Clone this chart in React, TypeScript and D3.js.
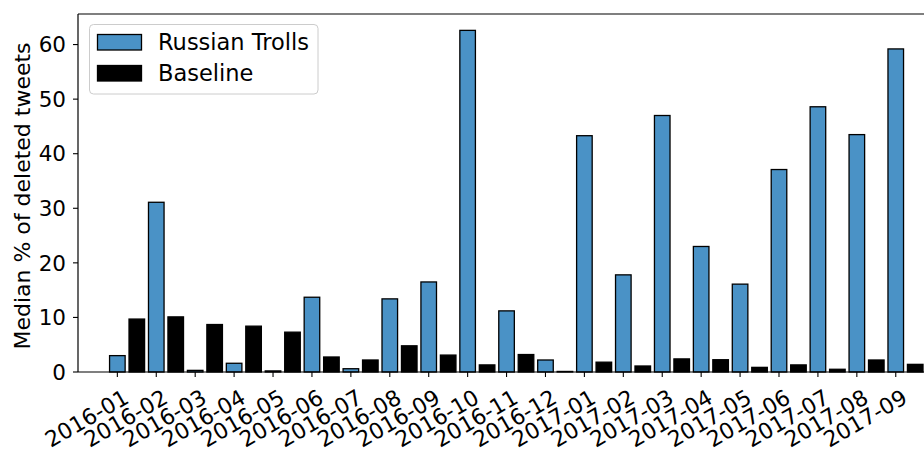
import React from "react";
import * as d3 from "d3";

const months = [
  "2016-01","2016-02","2016-03","2016-04","2016-05","2016-06","2016-07","2016-08","2016-09","2016-10","2016-11","2016-12",
  "2017-01","2017-02","2017-03","2017-04","2017-05","2017-06","2017-07","2017-08","2017-09",
];
const trolls = [3.0, 31.1, 0.3, 1.6, 0.2, 13.7, 0.6, 13.4, 16.5, 62.6, 11.2, 2.2, 43.3, 17.8, 47.0, 23.0, 16.1, 37.1, 48.6, 43.5, 59.2];
const baseline = [9.7, 10.1, 8.7, 8.4, 7.3, 2.75, 2.2, 4.8, 3.1, 1.3, 3.2, 0.1, 1.8, 1.1, 2.4, 2.25, 0.85, 1.3, 0.5, 2.2, 1.4];
const yTicks = [0, 10, 20, 30, 40, 50, 60];
const seriesNames = ["Russian Trolls", "Baseline"];

const W = 924, H = 450;
const left = 78, top = 14, bottom = 372, right = 926;
const BLUE = "#4a92c6";
const FONT = "DejaVu Sans, sans-serif";

export default function App() {
  const x = d3.scaleLinear().domain([-1.011, 20.777]).range([left, right]);
  const y = d3.scaleLinear().domain([0, 65.6]).range([bottom, top]);
  const bw = 0.4;
  const barW = x(bw) - x(0);
  return (
    <svg width={W} height={H} style={{ position: "absolute", left: 0, top: 0, background: "#fff" }} fontFamily={FONT}>
      <rect x={0} y={0} width={W} height={H} fill="#fff" />
      {trolls.map((v, i) => (
        <rect key={"t" + i} x={x(i - bw / 2)} y={y(v)} width={barW} height={y(0) - y(v)}
          fill={BLUE} stroke="#000" strokeWidth={1.3} />
      ))}
      {baseline.map((v, i) => (
        <rect key={"b" + i} x={x(i + 0.5 - bw / 2)} y={y(v)} width={barW} height={y(0) - y(v)}
          fill="#000" stroke="#000" strokeWidth={1.3} />
      ))}
      <line x1={left} x2={right} y1={top} y2={top} stroke="#000" strokeWidth={1.2} />
      <line x1={left} x2={right} y1={bottom} y2={bottom} stroke="#000" strokeWidth={1.2} />
      <line x1={left} x2={left} y1={top} y2={bottom} stroke="#000" strokeWidth={1.2} />
      {yTicks.map((t) => (
        <g key={"y" + t}>
          <line x1={left - 5} x2={left} y1={y(t)} y2={y(t)} stroke="#000" strokeWidth={1.1} />
          <text x={66} y={y(t)} dy="0.36em" textAnchor="end" fontSize={21.5} fill="#000">{t}</text>
        </g>
      ))}
      {months.map((m, i) => (
        <g key={"x" + m}>
          <line x1={x(i)} x2={x(i)} y1={bottom} y2={bottom + 5} stroke="#000" strokeWidth={1.1} />
          <text transform={`translate(${x(i) + 13},${402}) rotate(-30)`} textAnchor="end" fontSize={22} fill="#000">{m}</text>
        </g>
      ))}
      <text transform={`translate(30,${(top + bottom) / 2 + 3}) rotate(-90)`} textAnchor="middle" fontSize={22} fill="#000">
        Median % of deleted tweets
      </text>
      <rect x={89.5} y={24.5} width={228.5} height={69.5} rx={4} fill="#fff" fillOpacity={0.8} stroke="#cccccc" strokeWidth={1} />
      <rect x={97.5} y={34.5} width={44} height={15.5} fill={BLUE} stroke="#000" strokeWidth={1.3} />
      <text x={158} y={50} fontSize={22.5} fill="#000">{seriesNames[0]}</text>
      <rect x={97.5} y={65.5} width={44} height={15.5} fill="#000" stroke="#000" strokeWidth={1.3} />
      <text x={158} y={81} fontSize={22.5} fill="#000">{seriesNames[1]}</text>
    </svg>
  );
}
